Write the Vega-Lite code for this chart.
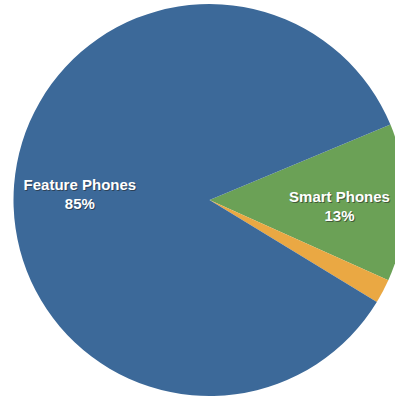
{
  "$schema": "https://vega.github.io/schema/vega-lite/v6.json",
  "width": 371,
  "height": 392,
  "autosize": {"type": "none"},
  "padding": {"left": 24, "top": 4, "right": 0, "bottom": 0},
  "background": "white",
  "data": {
    "values": [
      {"category": "Smart Phones", "share": 13, "o": 1, "label": "Smart Phones\n13%"},
      {"category": "Other", "share": 2, "o": 2, "label": ""},
      {"category": "Feature Phones", "share": 85, "o": 3, "label": "Feature Phones\n85%"}
    ]
  },
  "encoding": {
    "theta": {"field": "share", "type": "quantitative", "stack": true, "scale": {"range": [1.176, 7.459]}},
    "order": {"field": "o", "type": "quantitative"}
  },
  "layer": [
    {
      "mark": {"type": "arc", "outerRadius": 196, "stroke": null},
      "encoding": {
        "color": {
          "field": "category",
          "type": "nominal",
          "scale": {"domain": ["Smart Phones", "Other", "Feature Phones"], "range": ["#6ba156", "#eaa843", "#3c6999"]},
          "legend": null
        }
      }
    },
    {
      "mark": {"type": "text", "radius": 130, "fontSize": 15, "fontWeight": "bold", "font": "Liberation Sans", "lineBreak": "\n", "lineHeight": 19, "baseline": "middle", "align": "center", "fill": "#222222", "opacity": 0.55, "dx": 1, "dy": -4},
      "encoding": {"text": {"field": "label"}}
    },
    {
      "mark": {"type": "text", "radius": 130, "fontSize": 15, "fontWeight": "bold", "font": "Liberation Sans", "lineBreak": "\n", "lineHeight": 19, "baseline": "middle", "align": "center", "fill": "white", "dy": -5},
      "encoding": {"text": {"field": "label"}}
    }
  ]
}
